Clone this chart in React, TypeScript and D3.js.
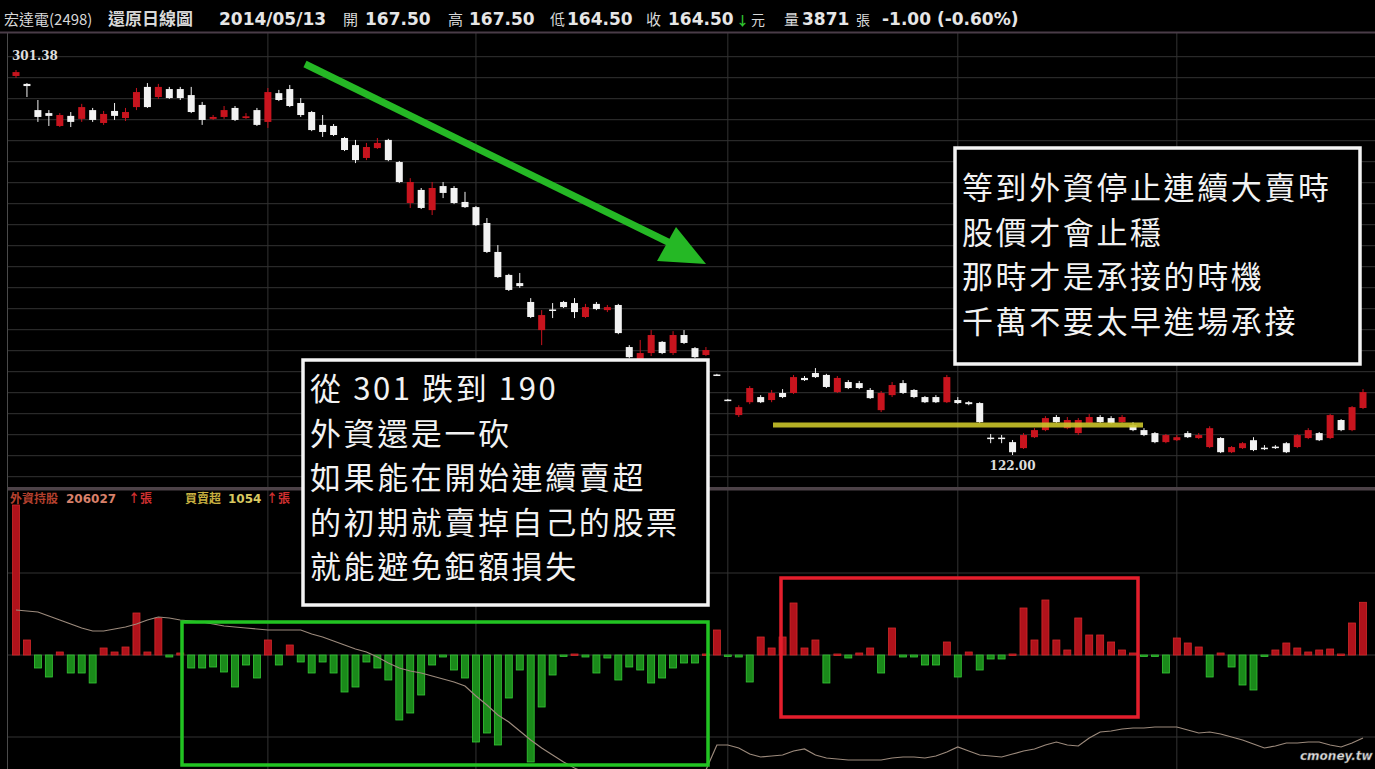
import React from 'react';
import * as d3 from 'd3';

// daily candles (還原日線), oldest first
const opens = [
  298.6, 294.9, 282.7, 281.3, 275.3, 280.0, 278.6, 282.7, 276.7, 282.3,
  279.0, 284.1, 293.5, 288.8, 292.5, 292.5, 289.7, 285.1, 278.6, 279.5,
  283.7, 279.0, 282.7, 277.2, 290.6, 292.5, 286.0, 281.8, 275.8, 275.3,
  269.7, 266.4, 260.4, 265.0, 268.8, 258.5, 239.4, 245.5, 236.1, 247.3,
  246.4, 239.9, 237.5, 230.1, 216.6, 205.9, 202.1, 193.3, 180.2, 189.8,
  193.3, 192.8, 186.3, 192.4, 189.5, 191.9, 172.3, 164.8, 169.5, 174.7,
  169.5, 177.9, 171.8, 168.6, 159.5, 147.8, 140.6, 146.6, 149.0, 147.6,
  150.9, 150.9, 157.9, 160.2, 159.3, 151.3, 156.0, 155.5, 152.3, 142.9,
  149.9, 155.5, 152.3, 149.0, 149.0, 146.6, 147.6, 146.6, 146.2, 130.1,
  130.1, 128.0, 125.2, 130.3, 133.6, 139.7, 134.5, 132.2, 136.9, 139.7,
  139.2, 137.3, 135.9, 133.6, 132.2, 128.0, 128.9, 132.2, 129.9, 125.7,
  129.9, 123.3, 125.2, 128.9, 125.4, 125.9, 127.5, 125.7, 129.9, 132.2,
  129.9, 138.3, 133.6, 143.9,
];
const highs = [
  301.38, 295.3, 287.4, 282.7, 281.3, 281.8, 285.6, 283.7, 282.3, 286.0,
  283.7, 293.0, 295.3, 294.9, 293.5, 293.5, 293.5, 286.5, 280.4, 284.6,
  284.6, 281.3, 283.7, 293.0, 292.1, 294.4, 288.3, 282.3, 280.4, 276.2,
  270.2, 268.8, 267.4, 269.7, 269.3, 259.0, 251.0, 246.4, 249.2, 249.2,
  247.3, 244.6, 238.0, 232.4, 219.8, 206.4, 206.8, 195.1, 189.5, 192.8,
  193.8, 195.1, 192.4, 193.3, 191.9, 192.4, 173.2, 175.6, 180.2, 175.1,
  179.7, 180.2, 172.3, 172.3, 159.8, 148.1, 145.2, 154.1, 149.9, 152.3,
  152.7, 159.3, 158.8, 162.5, 159.8, 158.8, 156.9, 156.5, 153.2, 151.8,
  156.0, 156.9, 152.7, 149.5, 149.9, 159.3, 149.0, 147.1, 146.6, 131.8,
  131.3, 129.0, 132.2, 134.5, 140.1, 140.6, 139.7, 139.2, 141.1, 140.6,
  140.1, 140.6, 137.3, 134.5, 132.7, 131.8, 131.3, 133.1, 132.2, 135.4,
  130.3, 126.2, 128.0, 130.3, 126.6, 126.6, 128.0, 131.8, 134.5, 132.7,
  141.1, 138.7, 144.8, 152.7,
];
const lows = [
  297.7, 288.8, 277.2, 275.3, 274.8, 274.8, 277.2, 277.2, 275.8, 278.1,
  277.6, 282.7, 283.7, 287.9, 287.9, 287.4, 281.3, 275.8, 278.1, 278.6,
  277.6, 278.6, 275.3, 274.4, 286.9, 284.1, 279.5, 272.9, 270.2, 270.6,
  263.6, 258.0, 259.4, 264.6, 258.9, 248.7, 237.1, 236.6, 233.8, 241.7,
  238.9, 237.1, 228.7, 216.1, 204.5, 198.4, 199.9, 185.8, 173.2, 185.8,
  190.5, 185.8, 185.8, 189.5, 188.6, 178.3, 167.1, 154.1, 168.1, 169.0,
  168.6, 173.7, 167.1, 168.1, 158.8, 147.1, 139.7, 145.7, 146.2, 146.6,
  148.5, 150.4, 156.5, 157.9, 153.2, 150.9, 152.7, 152.7, 148.1, 142.0,
  149.0, 150.4, 148.5, 146.2, 146.2, 146.2, 145.7, 145.2, 136.9, 127.5,
  127.5, 122.0, 124.8, 129.9, 133.1, 136.9, 134.0, 131.3, 136.4, 136.9,
  136.4, 136.9, 133.1, 130.8, 127.5, 127.5, 128.5, 129.9, 129.4, 125.2,
  122.9, 122.9, 124.8, 123.8, 124.3, 124.8, 122.9, 125.2, 129.4, 128.5,
  129.4, 133.1, 133.1, 143.4,
];
const closes = [
  300.4, 293.9, 279.5, 280.0, 280.4, 277.2, 284.1, 278.1, 280.9, 280.0,
  281.8, 291.1, 284.1, 293.5, 288.3, 288.3, 281.8, 278.1, 279.5, 282.7,
  278.1, 279.8, 275.8, 291.1, 287.4, 284.6, 280.4, 273.4, 272.5, 271.1,
  264.1, 259.4, 265.5, 267.4, 259.4, 249.2, 249.2, 237.1, 246.4, 244.1,
  239.4, 237.5, 229.1, 216.6, 204.9, 198.9, 200.7, 186.3, 187.2, 189.3,
  190.9, 188.6, 190.9, 190.0, 190.9, 178.8, 167.6, 169.5, 177.9, 169.5,
  177.9, 174.2, 167.6, 170.9, 159.1, 147.4, 144.3, 153.2, 146.6, 150.9,
  149.0, 158.3, 156.9, 158.3, 153.7, 157.9, 153.2, 153.2, 148.5, 150.9,
  154.6, 150.9, 149.0, 146.6, 146.6, 158.3, 146.2, 145.7, 137.3, 129.7,
  129.7, 123.3, 131.3, 133.6, 139.2, 137.3, 138.3, 138.3, 139.7, 137.3,
  136.9, 139.7, 133.6, 131.3, 128.0, 131.3, 130.3, 130.3, 131.3, 134.5,
  123.3, 125.7, 127.5, 124.3, 125.0, 125.5, 123.3, 131.3, 133.6, 128.9,
  140.6, 133.6, 144.3, 151.3,
];

// 外資買賣超 (張)
const netBuy = [
  3000, 300, -260, -440, 60, -360, -360, -560, 140, 60,
  160, 840, 60, 740, -40, 40, -260, -260, -240, -340,
  -640, -200, -460, 300, -200, 200, -140, -360, -140, -360,
  -740, -640, -140, -260, -500, -1300, -1160, -800, -200, -40,
  -300, -460, -1740, -1560, -1800, -860, -300, -2140, -1040, -400,
  -20, 20, -40, -360, -60, -500, -240, -300, -560, -460,
  -260, -160, -160, 20, 500, -20, -40, -540, 360, 140,
  360, 1040, 140, 300, -560, 20, -60, 40, 140, -360,
  540, -40, -40, -200, -200, 260, -440, 60, -300, -80,
  -80, 20, 940, 300, 1100, 300, 100, 740, 400, 400,
  260, 100, 40, -20, -20, -360, 340, 240, 160, -440,
  40, -240, -600, -700, -20, 100, 240, 140, 60, 100,
  120, 20, 640, 1054,
];

// 外資持股 (千張)
const holdings = [
  334, 333, 332, 328, 324, 320, 316, 313, 313, 315,
  317, 320, 324, 327, 326, 324, 323, 322, 320, 318,
  317, 316, 315, 314, 314, 314, 314, 310, 307, 303,
  299, 295, 292, 287, 281, 276, 273, 271, 268, 265,
  262, 258, 248, 239, 229, 222, 213, 204, 196, 189,
  182, 176, 171, 167, 164, 161, 158, 156, 154, 154,
  155, 157, 161, 174, 199, 199, 196, 190, 187, 188,
  189, 193, 195, 189, 186, 185, 184, 184, 184, 184,
  186, 187, 187, 186, 188, 192, 197, 193, 189, 188,
  187, 190, 193, 195, 199, 202, 199, 198, 206, 212,
  213, 215, 216, 216, 217, 217, 217, 214, 211, 212,
  210, 207, 204, 200, 196, 198, 201, 201, 202, 202,
  199, 197, 201, 206,
];

// candle index where each new month starts
const monthStarts = [23, 42, 65, 86, 106];

const note1 = ['從 301 跌到 190', '外資還是一砍', '如果能在開始連續賣超', '的初期就賣掉自己的股票', '就能避免鉅額損失'];
const note2 = ['等到外資停止連續大賣時', '股價才會止穩', '那時才是承接的時機', '千萬不要太早進場承接'];

const header = [
  { x: 4, t: '宏達電(2498)', s: 15, b: false, c: '#d8d8d8' },
  { x: 108, t: '還原日線圖', s: 17, b: true, c: '#d8d8d8' },
  { x: 219, t: '2014/05/13', s: 17, b: true, c: '#e6e6e6' },
  { x: 343, t: '開', s: 15, b: false, c: '#d8d8d8' },
  { x: 365, t: '167.50', s: 17, b: true, c: '#e6e6e6' },
  { x: 448, t: '高', s: 15, b: false, c: '#d8d8d8' },
  { x: 469, t: '167.50', s: 17, b: true, c: '#e6e6e6' },
  { x: 550, t: '低', s: 15, b: false, c: '#d8d8d8' },
  { x: 567, t: '164.50', s: 17, b: true, c: '#e6e6e6' },
  { x: 646, t: '收', s: 15, b: false, c: '#d8d8d8' },
  { x: 668, t: '164.50', s: 17, b: true, c: '#e6e6e6' },
  { x: 736, t: '↓', s: 13, b: true, c: '#2fc42f' },
  { x: 751, t: '元', s: 14, b: false, c: '#d8d8d8' },
  { x: 784, t: '量', s: 15, b: false, c: '#d8d8d8' },
  { x: 802, t: '3871', s: 17, b: true, c: '#e6e6e6' },
  { x: 856, t: '張', s: 14, b: false, c: '#d8d8d8' },
  { x: 882, t: '-1.00 (-0.60%)', s: 17, b: true, c: '#e6e6e6' },
];

const CJK = "'Noto Sans CJK TC', 'Noto Sans CJK SC', sans-serif";
const RED = '#c8141e';
const WHITE = '#f2f2f2';
const GRID = '#333333';

export default function App() {
  const W = 1375;
  const H = 769;
  const n = opens.length;

  const x = d3.scaleLinear().domain([0, n - 1]).range([16, 1363]);
  const y = d3.scaleLinear().domain([122, 301.38]).range([455, 70]);
  const yBar = d3.scaleLinear().domain([-4000, 4000]).range([855, 455]);
  const yHold = d3.scaleLinear().domain([170, 370]).range([774, 574]);
  const bw = 7;

  const holdPath = d3
    .line<number>()
    .x((_, i) => x(i))
    .y((d) => yHold(d))(holdings) as string;

  const priceGrid = d3.range(21).map((k) => 56.7 + k * 21);
  const barGrid = [1640, 0, -1640].map((v) => yBar(v));

  const hiIdx = d3.maxIndex(highs);
  const loIdx = d3.minIndex(lows);

  return (
    <svg
      width={W}
      height={H}
      style={{ position: 'absolute', left: 0, top: 0, background: '#000' }}
    >
      <rect x={0} y={0} width={W} height={H} fill="#000" />

      {/* grid */}
      {priceGrid.map((gy) => (
        <line key={'pg' + gy} x1={8} x2={W} y1={gy} y2={gy} stroke={GRID} />
      ))}
      {barGrid.map((gy) => (
        <line key={'bg' + gy} x1={8} x2={W} y1={gy} y2={gy} stroke={GRID} />
      ))}
      {monthStarts.map((m) => (
        <line key={'v' + m} x1={x(m)} x2={x(m)} y1={33} y2={H} stroke={GRID} />
      ))}
      <line x1={7.5} x2={7.5} y1={33} y2={H} stroke="#4a4a4a" />

      {/* candles */}
      {opens.map((o, i) => {
        const c = closes[i];
        const col = c >= o ? RED : WHITE;
        const top = y(Math.max(o, c));
        const bot = y(Math.min(o, c));
        return (
          <g key={'c' + i}>
            <line x1={x(i)} x2={x(i)} y1={y(highs[i])} y2={y(lows[i])} stroke={col} />
            <rect x={x(i) - bw / 2} y={top} width={bw} height={Math.max(1.5, bot - top)} fill={col} />
          </g>
        );
      })}

      <text x={x(hiIdx) - 4} y={y(highs[hiIdx]) - 10} fill="#dddddd" fontSize={12} fontWeight="bold" fontFamily="'DejaVu Serif', serif">
        {highs[hiIdx].toFixed(2)}
      </text>
      <text x={x(loIdx)} y={y(lows[loIdx]) + 15} fill="#dddddd" fontSize={12} fontWeight="bold" textAnchor="middle" fontFamily="'DejaVu Serif', serif">
        {lows[loIdx].toFixed(2)}
      </text>

      {/* support line */}
      <line x1={773} x2={1143} y1={425} y2={425} stroke="#c9c42a" strokeWidth={5} opacity={0.9} />

      {/* panel separator */}
      <rect x={8} y={487} width={W - 8} height={3.5} fill="#4d4248" />

      {/* net buy bars */}
      {netBuy.map((v, i) => {
        const y0 = yBar(0);
        const yv = yBar(v);
        const up = v >= 0;
        return (
          <rect
            key={'b' + i}
            x={x(i) - bw / 2}
            y={Math.min(y0, yv)}
            width={bw}
            height={Math.max(1.5, Math.abs(yv - y0))}
            fill={up ? '#b0121b' : '#1a8a1a'}
            stroke={up ? '#d22a2a' : '#36c836'}
            strokeWidth={0.8}
          />
        );
      })}
      <path d={holdPath} fill="none" stroke="#9c8a7c" strokeWidth={1.2} />

      {/* legend */}
      <text y={503} fontSize={12} fontWeight="bold" fontFamily={CJK}>
        <tspan x={10} fill="#b4402e">外資持股</tspan>
        <tspan x={66} fill="#d8806a" fontFamily="'DejaVu Sans', sans-serif">206027</tspan>
        <tspan x={128} fill="#d03030">↑張</tspan>
        <tspan x={185} fill="#c8b040">買賣超</tspan>
        <tspan x={228} fill="#d8c860" fontFamily="'DejaVu Sans', sans-serif">1054</tspan>
        <tspan x={266} fill="#d03030">↑張</tspan>
      </text>

      {/* highlight boxes */}
      <rect x={182} y={622} width={526} height={143} fill="none" stroke="#22c322" strokeWidth={3.5} />
      <rect x={781} y={578} width={357} height={139} fill="none" stroke="#e41e2c" strokeWidth={3.5} />

      {/* trend arrow */}
      <line x1={305} y1={64} x2={670} y2={243} stroke="#25b825" strokeWidth={7} />
      <polygon points="657,261 676,227 706,264" fill="#25b825" />

      {/* notes */}
      <rect x={303} y={360} width={405} height={245} fill="#000" stroke="#f4f4f4" strokeWidth={3.5} />
      {note1.map((t, k) => (
        <text key={'n1' + k} x={310} y={400 + k * 44.5} fill="#f2f2f2" fontSize={31} letterSpacing={2.6} fontFamily={CJK}>
          {t}
        </text>
      ))}
      <rect x={955} y={148} width={405} height={216} fill="#000" stroke="#f4f4f4" strokeWidth={3.5} />
      {note2.map((t, k) => (
        <text key={'n2' + k} x={962} y={199 + k * 44.7} fill="#f2f2f2" fontSize={31} letterSpacing={2.6} fontFamily={CJK}>
          {t}
        </text>
      ))}

      {/* header */}
      <rect x={0} y={0} width={W} height={32} fill="#000" />
      <line x1={0} x2={W} y1={32.5} y2={32.5} stroke="#4a3c48" strokeWidth={2} />
      {header.map((h, k) => (
        <text
          key={'h' + k}
          x={h.x}
          y={25}
          fill={h.c}
          fontSize={h.s}
          fontWeight={h.b ? 'bold' : 'normal'}
          fontFamily={/[0-9%().\-/]/.test(h.t) && !/[\u4e00-\u9fff]/.test(h.t) ? "'DejaVu Sans', sans-serif" : CJK}
        >
          {h.t}
        </text>
      ))}

      <text x={1300} y={760} fill="#dddddd" fontSize={12} fontStyle="italic" fontWeight="bold" fontFamily="'DejaVu Sans', sans-serif" stroke="#555" strokeWidth={0.4}>
        cmoney.tw
      </text>
    </svg>
  );
}
